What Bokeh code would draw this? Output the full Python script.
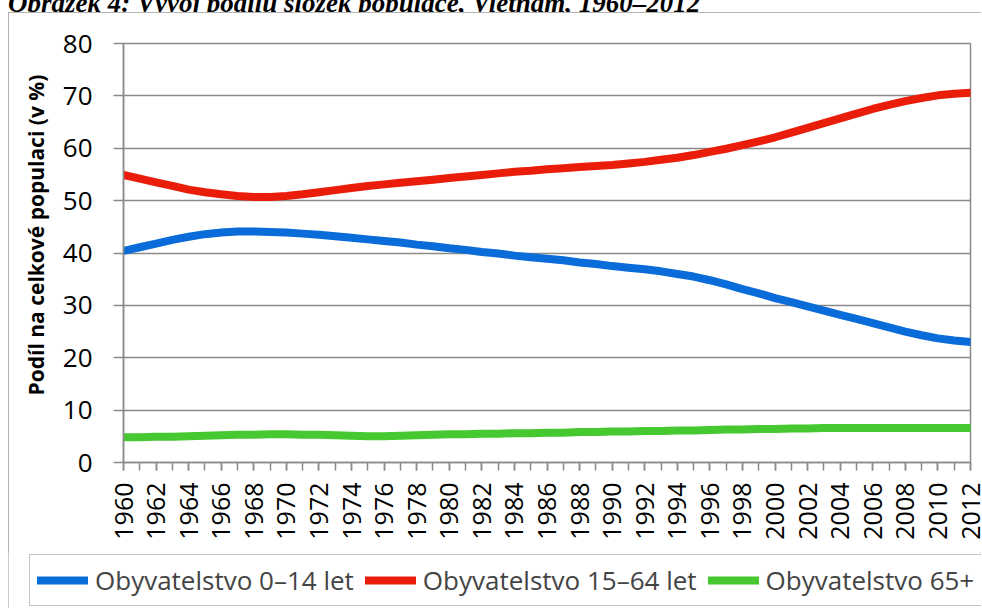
import math
from bokeh.plotting import figure
from bokeh.layouts import column
from bokeh.models import (Range1d, SingleIntervalTicker, FixedTicker, Legend, LegendItem,
                          Title, Div)
from bokeh.embed import file_html
from bokeh.resources import INLINE

# ---------------- data ----------------
years = list(range(1960, 2013))

age_0_14 = [40.4, 41.1, 41.8, 42.5, 43.1, 43.6, 43.9, 44.1, 44.1, 44.0,
            43.9, 43.7, 43.5, 43.2, 42.9, 42.6, 42.3, 42.0, 41.6, 41.3,
            40.9, 40.6, 40.2, 39.9, 39.5, 39.2, 38.9, 38.6, 38.2, 37.9,
            37.5, 37.2, 36.9, 36.5, 36.0, 35.5, 34.8, 34.0, 33.1, 32.3,
            31.4, 30.6, 29.8, 29.0, 28.2, 27.4, 26.6, 25.8, 25.0, 24.3,
            23.7, 23.3, 23.0]

age_15_64 = [54.9, 54.2, 53.5, 52.8, 52.1, 51.6, 51.2, 50.9, 50.7, 50.7,
             50.9, 51.2, 51.6, 52.0, 52.4, 52.8, 53.1, 53.4, 53.7, 54.0,
             54.3, 54.6, 54.9, 55.2, 55.5, 55.7, 56.0, 56.2, 56.4, 56.6,
             56.8, 57.1, 57.4, 57.8, 58.2, 58.7, 59.3, 59.9, 60.6, 61.3,
             62.1, 63.0, 63.9, 64.8, 65.7, 66.6, 67.5, 68.3, 69.0, 69.6,
             70.1, 70.4, 70.6]

age_65_plus = [4.8, 4.8, 4.9, 4.9, 5.0, 5.1, 5.2, 5.3, 5.3, 5.4,
               5.4, 5.3, 5.3, 5.2, 5.1, 5.0, 5.0, 5.1, 5.2, 5.3,
               5.4, 5.4, 5.5, 5.5, 5.6, 5.6, 5.7, 5.7, 5.8, 5.8,
               5.9, 5.9, 6.0, 6.0, 6.1, 6.1, 6.2, 6.3, 6.3, 6.4,
               6.4, 6.5, 6.5, 6.6, 6.6, 6.6, 6.6, 6.6, 6.6, 6.6,
               6.6, 6.6, 6.6]

series_names = ["Obyvatelstvo 0–14 let", "Obyvatelstvo 15–64 let", "Obyvatelstvo 65+"]
series_colors = ["#0A6CD8", "#EA1D0A", "#45C830"]
y_ticks = [0, 10, 20, 30, 40, 50, 60, 70, 80]
title_text = "Obrázek 4: Vývoj podílu složek populace, Vietnam, 1960–2012"
y_label_text = "Podíl na celkové populaci (v %)"

GRAY = "#8a8a8a"
LINE_W = 8
series = [age_0_14, age_15_64, age_65_plus]

# ---------------- title (partly cut off at the top, as in the reference) ----------------
title_div = Div(text=title_text, width=982, height=12, margin=0,
                styles={"font-family": "'Liberation Serif', serif", "font-weight": "bold",
                        "font-style": "italic", "font-size": "27px", "line-height": "7px",
                        "padding-left": "8px", "color": "black", "white-space": "nowrap"})

# ---------------- main chart ----------------
W, H = 973, 540
x0, x1 = 1960, 2012
y0, y1 = 0, 80

p = figure(width=W, height=H, x_range=Range1d(x0, x1), y_range=Range1d(y0, y1),
           output_backend="svg", toolbar_location=None, tools="",
           min_border_left=115, min_border_right=11, min_border_top=31, min_border_bottom=90,
           background_fill_color="white", border_fill_color="white")

p.outline_line_color = GRAY
p.outline_line_width = 1.5

# x axis
p.xaxis.ticker = SingleIntervalTicker(interval=2, num_minor_ticks=2)
p.xaxis.axis_line_color = GRAY
p.xaxis.axis_line_width = 1.5
p.xaxis.major_tick_line_color = GRAY
p.xaxis.major_tick_line_width = 1.5
p.xaxis.minor_tick_line_color = GRAY
p.xaxis.minor_tick_line_width = 1.5
p.xaxis.major_tick_out = 8
p.xaxis.major_tick_in = 0
p.xaxis.minor_tick_out = 8
p.xaxis.minor_tick_in = 0
p.xaxis.major_label_orientation = math.pi / 2
p.xaxis.major_label_standoff = 12
p.xaxis.major_label_text_font = "Open Sans"
p.xaxis.major_label_text_font_size = "25px"
p.xaxis.major_label_text_color = "black"

# y axis
p.yaxis.ticker = FixedTicker(ticks=y_ticks)
p.yaxis.axis_line_color = GRAY
p.yaxis.axis_line_width = 1.5
p.yaxis.major_tick_line_color = GRAY
p.yaxis.major_tick_line_width = 1.5
p.yaxis.major_tick_out = 10
p.yaxis.major_tick_in = 0
p.yaxis.minor_tick_line_color = None
p.yaxis.major_label_standoff = 21
p.yaxis.major_label_text_font = "Open Sans"
p.yaxis.major_label_text_font_size = "26px"
p.yaxis.major_label_text_color = "black"

p.xgrid.visible = False
p.ygrid.ticker = FixedTicker(ticks=y_ticks)
p.ygrid.grid_line_color = GRAY
p.ygrid.grid_line_width = 1.5

# y axis title
p.add_layout(Title(text=y_label_text, align="left", offset=67, standoff=20,
                   text_font="Open Sans", text_font_style="bold", text_font_size="21px",
                   text_color="black"), "left")

for vals, col in zip(series, series_colors):
    p.line(years, vals, line_color=col, line_width=LINE_W,
           line_cap="round", line_join="round")

# ---------------- legend strip (inside the same outer border) ----------------
lg = figure(width=W, height=56, x_range=Range1d(0, 1), y_range=Range1d(0, 1),
            x_axis_location=None, y_axis_location=None,
            output_backend="svg", toolbar_location=None, tools="",
            min_border_left=0, min_border_right=0, min_border_top=0, min_border_bottom=0,
            background_fill_color="white", border_fill_color="white")
lg.grid.visible = False
lg.outline_line_color = None
try:
    lg.frame_align = False
except Exception:
    pass

# same series, drawn outside this strip's visible range: only their legend glyphs show
legend_renderers = [lg.line(years, vals, line_color=col, line_width=LINE_W,
                            line_cap="round", line_join="round")
                    for vals, col in zip(series, series_colors)]

legend = Legend(items=[LegendItem(label=n, renderers=[r]) for n, r in zip(series_names, legend_renderers)],
                orientation="horizontal", location=(21, 2),
                label_text_font="Open Sans", label_text_font_size="26px",
                glyph_width=51, glyph_height=20, label_standoff=7, spacing=11,
                padding=7, margin=0,
                border_line_color=GRAY, border_line_width=1.5,
                background_fill_color="white", background_fill_alpha=1)
lg.add_layout(legend)

chart = column(p, lg, spacing=0, margin=(0, 0, 0, 8),
               styles={"outline": "1.5px solid #9a9a9a", "outline-offset": "-1.5px"})

root = column(title_div, chart, spacing=0)
open("out.html", "w").write(file_html(root, INLINE))
